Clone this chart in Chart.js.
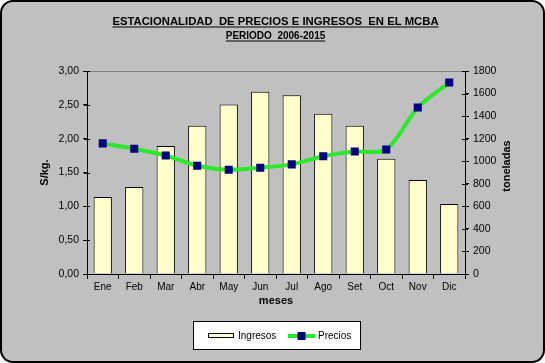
<!DOCTYPE html>
<html>
<head>
<meta charset="utf-8">
<script src="https://cdn.jsdelivr.net/npm/chart.js@4/dist/chart.umd.min.js"></script>
<style>
  html, body { margin: 0; padding: 0; background: #fff; }
</style>
</head>
<body>
<canvas id="estacionalidadChart" width="545" height="363"></canvas>
<script>
// datos
const meses = ['Ene', 'Feb', 'Mar', 'Abr', 'May', 'Jun', 'Jul', 'Ago', 'Set', 'Oct', 'Nov', 'Dic'];
const precios = [1.93, 1.85, 1.75, 1.60, 1.54, 1.57, 1.62, 1.74, 1.81, 1.84, 2.46, 2.83];
const ingresos = [683, 772, 1136, 1314, 1504, 1617, 1584, 1421, 1314, 1021, 834, 620];
const escalaPrecio = [0, 3, 0.5];     // min, max, paso (S/kg.)
const escalaToneladas = [0, 1800, 200];
const titulo = 'ESTACIONALIDAD  DE PRECIOS E INGRESOS  EN EL MCBA';
const subtitulo = 'PERIODO  2006-2015';

const FUENTE = "'Liberation Sans', Arial, sans-serif";
const VERDE = '#2BE82B';
const AZUL = '#000080';
const AMARILLO = '#FFFFCC';

// fondo gris con borde redondeado y titulos subrayados
const fondo = {
  id: 'fondo',
  beforeDraw(chart) {
    const ctx = chart.ctx;
    ctx.save();
    ctx.fillStyle = '#fff';
    ctx.fillRect(0, 0, chart.width, chart.height);
    ctx.beginPath();
    ctx.roundRect(1, 1, chart.width - 2, chart.height - 2, 12);
    ctx.fillStyle = '#C0C0C0';
    ctx.fill();
    ctx.lineWidth = 2;
    ctx.strokeStyle = '#000';
    ctx.stroke();

    // borde superior del area de trazado
    const a = chart.chartArea;
    ctx.strokeStyle = '#808080';
    ctx.lineWidth = 1;
    ctx.beginPath();
    ctx.moveTo(a.left, a.top + 0.5);
    ctx.lineTo(a.right, a.top + 0.5);
    ctx.stroke();

    // titulos
    ctx.fillStyle = '#000';
    ctx.textAlign = 'center';
    ctx.textBaseline = 'alphabetic';
    const cx = 275.5;
    const lineas = [[titulo, 'bold 11.3px ' + FUENTE, 25, 27], [subtitulo, 'bold 10px ' + FUENTE, 39, 41]];
    lineas.forEach(([txt, font, y, yl]) => {
      ctx.font = font;
      ctx.fillText(txt, cx, y);
      const w = ctx.measureText(txt).width;
      ctx.fillRect(cx - w / 2, yl - 0.5, w, 1);
    });
    ctx.restore();
  },
  afterDraw(chart) {
    const ctx = chart.ctx;
    ctx.save();
    // marcas de division que cruzan los ejes
    ctx.strokeStyle = '#000';
    ctx.lineWidth = 1;
    ['y', 'y1'].forEach(id => {
      const s = chart.scales[id];
      const x = id === 'y' ? s.right : s.left;
      s.ticks.forEach(t => {
        const py = Math.round(s.getPixelForValue(t.value)) + 0.5;
        ctx.beginPath();
        ctx.moveTo(x - 3, py);
        ctx.lineTo(x + 3, py);
        ctx.stroke();
      });
    });

    // titulo eje derecho (rotado de abajo hacia arriba)
    ctx.fillStyle = '#000';
    ctx.font = 'bold 11px ' + FUENTE;
    ctx.textAlign = 'center';
    ctx.textBaseline = 'middle';
    ctx.translate(507, 166);
    ctx.rotate(-Math.PI / 2);
    ctx.fillText('toneladas', 0, 0);
    ctx.setTransform(1, 0, 0, 1, 0, 0);

    // leyenda
    ctx.fillStyle = '#fff';
    ctx.fillRect(193.5, 321.5, 167, 28);
    ctx.strokeRect(193.5, 321.5, 167, 28);
    ctx.fillStyle = AMARILLO;
    ctx.fillRect(208.5, 333.5, 25, 4);
    ctx.strokeRect(208.5, 333.5, 25, 4);
    ctx.strokeStyle = VERDE;
    ctx.lineWidth = 4;
    ctx.beginPath();
    ctx.moveTo(288, 336);
    ctx.lineTo(315, 336);
    ctx.stroke();
    ctx.fillStyle = AZUL;
    ctx.fillRect(297.5, 332, 8, 8);
    ctx.fillStyle = '#000';
    ctx.font = '10px ' + FUENTE;
    ctx.textAlign = 'left';
    ctx.fillText('Ingresos', 238, 336);
    ctx.fillText('Precios', 318, 336);
    ctx.restore();
  }
};

const ctx = document.getElementById('estacionalidadChart').getContext('2d');
new Chart(ctx, {
  type: 'bar',
  data: {
    labels: meses,
    datasets: [
      {
        type: 'line',
        label: 'Precios',
        data: precios,
        yAxisID: 'y',
        borderColor: VERDE,
        borderWidth: 4,
        tension: 0.3,
        pointStyle: 'rect',
        pointRadius: 5.7,
        pointBackgroundColor: AZUL,
        pointBorderColor: AZUL,
        pointBorderWidth: 0,
        order: 0
      },
      {
        type: 'bar',
        label: 'Ingresos',
        data: ingresos,
        yAxisID: 'y1',
        backgroundColor: AMARILLO,
        borderColor: '#000',
        borderWidth: 1,
        barPercentage: 0.58,
        categoryPercentage: 1,
        order: 1
      }
    ]
  },
  options: {
    responsive: false,
    animation: false,
    devicePixelRatio: 1,
    layout: { padding: { top: 71, right: 8, bottom: 55, left: 8 } },
    plugins: {
      legend: { display: false },
      tooltip: { enabled: false }
    },
    scales: {
      x: {
        afterFit: s => { s.height = 34; },
        border: { color: '#000', width: 1 },
        grid: { offset: true, drawOnChartArea: false, tickLength: 5, color: '#000' },
        ticks: { color: '#000', font: { family: FUENTE, size: 10 }, padding: 2, maxRotation: 0 },
        title: { display: true, text: 'meses', color: '#000', font: { family: FUENTE, size: 11, weight: 'bold' }, padding: 0 }
      },
      y: {
        position: 'left',
        min: escalaPrecio[0],
        max: escalaPrecio[1],
        afterFit: s => { s.width = 79; },
        border: { color: '#000', width: 1 },
        grid: { drawOnChartArea: false, tickLength: 4, color: '#000' },
        ticks: {
          stepSize: escalaPrecio[2],
          color: '#000',
          padding: 4,
          font: { family: FUENTE, size: 10.5 },
          callback: v => v.toFixed(2).replace('.', ',')
        },
        title: { display: true, text: 'S/kg.', color: '#000', font: { family: FUENTE, size: 11, weight: 'bold' }, padding: { top: 30, bottom: 0 } }
      },
      y1: {
        position: 'right',
        min: escalaToneladas[0],
        max: escalaToneladas[1],
        afterFit: s => { s.width = 72; },
        border: { color: '#000', width: 1 },
        grid: { drawOnChartArea: false, tickLength: 4, color: '#000' },
        ticks: {
          stepSize: escalaToneladas[2],
          color: '#000',
          padding: 4,
          font: { family: FUENTE, size: 10.5 },
          callback: v => String(v)
        }
      }
    }
  },
  plugins: [fondo]
});
</script>
</body>
</html>
